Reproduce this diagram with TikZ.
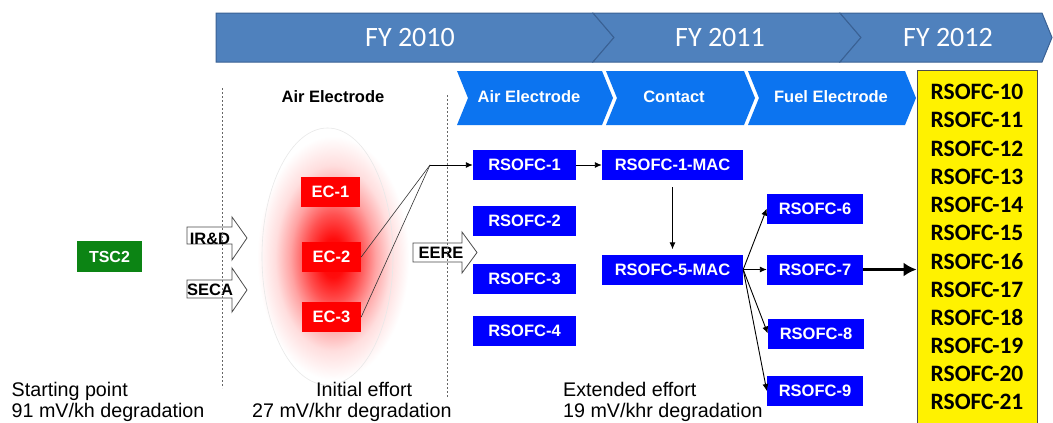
\documentclass[tikz,border=0pt]{standalone}
\usepackage{fontspec}
\setmainfont{Liberation Sans}
\newfontfamily\calibri{Carlito}
\usetikzlibrary{arrows.meta}
\definecolor{banner}{HTML}{4F81BD}
\definecolor{bannerdk}{HTML}{3A6194}
\definecolor{chev}{RGB}{12,116,240}
\definecolor{bbox}{HTML}{0000FF}
\definecolor{ecred}{HTML}{FF0000}
\definecolor{tscgreen}{RGB}{12,132,20}
\pgfdeclareradialshading{glow}{\pgfpoint{0bp}{0bp}}{color(0bp)=(red);color(4bp)=(red!95);color(9bp)=(red!68);color(14bp)=(red!36);color(19bp)=(red!13);color(25bp)=(white);color(50bp)=(white)}
\begin{document}
\begin{tikzpicture}[x=1pt,y=-1pt,
  bannerseg/.style={fill=banner,draw=bannerdk,line width=1pt},
  bannertxt/.style={text=white,font=\calibri\fontsize{28}{30}\selectfont},
  chevseg/.style={fill=chev},
  chevtxt/.style={text=white,font=\bfseries\fontsize{16.5}{18}\selectfont},
  bluebox/.style={fill=bbox,text=white,font=\bfseries\fontsize{16.5}{18}\selectfont,minimum width=103pt,minimum height=30pt,inner sep=0pt},
  macbox/.style={bluebox,minimum width=141pt},
  smallbox/.style={bluebox,minimum width=96pt},
  redbox/.style={fill=ecred,text=white,font=\bfseries\fontsize{16.5}{18}\selectfont,minimum width=59pt,minimum height=30pt,inner sep=0pt},
  greenbox/.style={fill=tscgreen,text=white,font=\bfseries\fontsize{16}{18}\selectfont,minimum width=65pt,minimum height=31pt,inner sep=0pt},
  ytxt/.style={font=\calibri\bfseries\fontsize{23.5}{25}\selectfont,inner sep=0pt},
  blockarrow/.style={draw=black!70,fill=white,line width=0.8pt},
  blocktxt/.style={font=\bfseries\fontsize{16.5}{18}\selectfont,inner sep=0pt},
  plain/.style={font=\fontsize{19.7}{22}\selectfont,inner sep=0pt,anchor=base west},
  arr/.style={-{Latex[length=7pt,width=6pt]},line width=0.9pt},
  thinline/.style={line width=0.6pt,black!80},
  dotline/.style={black!60,line width=1pt,dash pattern=on 2pt off 2pt}]
\useasboundingbox (0,0) rectangle (1053,423);
\fill[white] (0,0) rectangle (1053,423);

% glow and ellipse
\shade[shading=glow] (333,258) ellipse [x radius=76, y radius=122];
\draw[black!9,line width=0.6pt] (327.5,256.5) ellipse [x radius=65.5, y radius=128.5];

% top banner
\draw[bannerseg] (216,13)--(593,13)--(614,37.5)--(593,62)--(216,62)--cycle;
\draw[bannerseg] (593,13)--(840,13)--(861,37.5)--(840,62)--(593,62)--(614,37.5)--cycle;
\draw[bannerseg] (840,13)--(1042,13)--(1052,37.5)--(1042,62)--(840,62)--(861,37.5)--cycle;
\node[bannertxt] (fy10) at (410,38) {FY 2010};
\node[bannertxt] (fy11) at (720,38) {FY 2011};
\node[bannertxt] (fy12) at (948,38) {FY 2012};

% chevron row
\fill[chevseg] (457,71)--(602,71)--(613,98)--(602,125)--(457,125)--(468,98)--cycle;
\fill[chevseg] (606,71)--(744,71)--(755,98)--(744,125)--(606,125)--(617,98)--cycle;
\fill[chevseg] (748,71)--(905,71)--(916,98)--(905,125)--(748,125)--(759,98)--cycle;
\node[chevtxt] (ch1) at (529,97) {Air Electrode};
\node[chevtxt] (ch2) at (674,97) {Contact};
\node[chevtxt] (ch3) at (831,97) {Fuel Electrode};

\node[blocktxt] (airel) at (333,97) {Air Electrode};

% yellow box
\node[draw=black!70,fill=yellow,line width=0.8pt,minimum width=120pt,minimum height=370pt,inner sep=0pt] (yb) at (977,255) {};
\foreach \i in {10,...,21}{
  \node[ytxt] (r\i) at (977,{92+(\i-10)*28.2}) {RSOFC-\i};
}

% green
\node[greenbox] (tsc) at (109.5,256.5) {TSC2};

% block arrows
\draw[blockarrow] (187,227)--(232,227)--(232,217)--(247,238)--(232,260)--(232,244)--(187,244)--cycle;
\node[blocktxt] (ird) at (210,239) {IR\&D};
\draw[blockarrow] (187,280)--(232,280)--(232,268)--(247,290)--(232,312)--(232,298)--(187,298)--cycle;
\node[blocktxt] (seca) at (210,290) {SECA};
\draw[blockarrow] (413,243)--(462,243)--(462,232)--(477,252.5)--(462,273)--(462,262)--(413,262)--cycle;
\node[blocktxt] (eere) at (441,253) {EERE};

% red EC boxes
\node[redbox] (ec1) at (330.5,192) {EC-1};
\node[redbox] (ec2) at (331.5,257) {EC-2};
\node[redbox] (ec3) at (331.5,317) {EC-3};

% blue boxes
\node[bluebox] (rs1) at (524.5,165) {RSOFC-1};
\node[bluebox] (rs2) at (524.5,220.5) {RSOFC-2};
\node[bluebox] (rs3) at (524.5,278.5) {RSOFC-3};
\node[bluebox] (rs4) at (524.5,330.5) {RSOFC-4};
\node[macbox] (mac1) at (672.5,165) {RSOFC-1-MAC};
\node[macbox] (mac5) at (672.5,269.5) {RSOFC-5-MAC};
\node[smallbox] (rs6) at (815,208.5) {RSOFC-6};
\node[smallbox] (rs7) at (815,269.5) {RSOFC-7};
\node[smallbox] (rs8) at (816,333.5) {RSOFC-8};
\node[smallbox] (rs9) at (815,391) {RSOFC-9};

% connectors
\coordinate (J) at (430,165);
\draw[thinline] (ec2.east) -- (J);
\draw[thinline] (ec3.east) -- (J);
\draw[arr] (J) -- (rs1.west);
\draw[arr] (rs1.east) -- (mac1.west);
\draw[arr,shorten <=7pt,shorten >=5pt] (mac1.south) -- (mac5.north);
\draw[arr] (mac5.east) -- (rs6.west);
\draw[arr] (mac5.east) -- (rs7.west);
\draw[arr] (mac5.east) -- (rs8.west);
\draw[arr] (mac5.east) -- (rs9.west);
\draw[line width=3pt,-{Latex[length=13pt,width=14pt]}] (rs7.east) -- (yb.west |- rs7.east);

% dotted separators
\draw[dotline] (222,88) -- (222,388);
\draw[dotline] (447,95) -- (447,397);

% bottom texts
\node[plain] (sp1) at (11.5,396) {Starting point};
\node[plain] (sp2) at (11.5,417) {91 mV/kh degradation};
\node[plain] (ie1) at (316,396) {Initial effort};
\node[plain] (ie2) at (252,417) {27 mV/khr degradation};
\node[plain] (ee1) at (563,396) {Extended effort};
\node[plain] (ee2) at (563,417) {19 mV/khr degradation};
\end{tikzpicture}
\end{document}
